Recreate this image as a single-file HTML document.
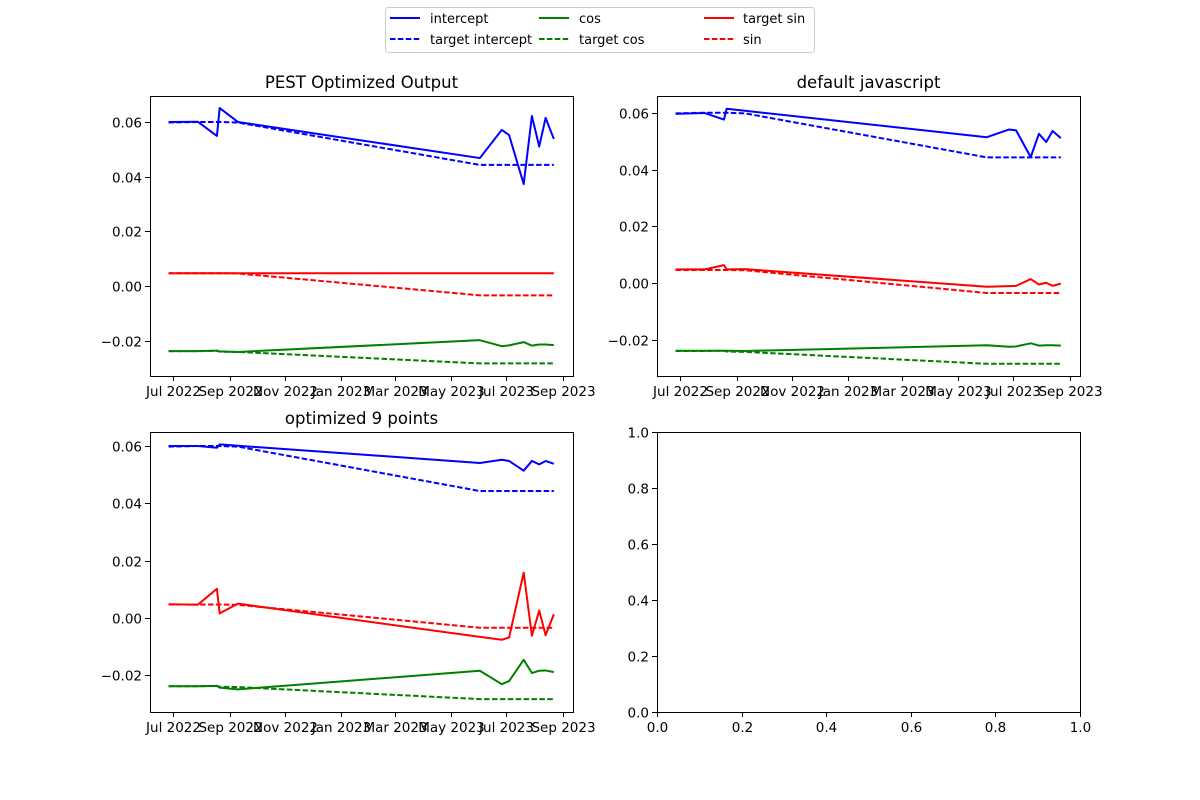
<!DOCTYPE html>
<html><head><meta charset="utf-8">
<style>
body{margin:0;background:#fff;}
svg{display:block;font-family:"DejaVu Sans","Liberation Sans",sans-serif;}
</style></head>
<body>
<svg id="fig" width="1200" height="800" viewBox="0 0 1200 800" xmlns="http://www.w3.org/2000/svg">
<rect width="1200" height="800" fill="#fff"/>
<g>
<rect x="385.5" y="7.5" width="429" height="45" rx="3" fill="#fff" stroke="#ccc"/>
<line x1="390" y1="18" x2="420" y2="18" stroke="blue" stroke-width="2"/>
<text x="430" y="23" font-size="13">intercept</text>
<line x1="390" y1="39" x2="420" y2="39" stroke="blue" stroke-width="2" stroke-dasharray="5.5,2.4"/>
<text x="430" y="44" font-size="13">target intercept</text>
<line x1="539" y1="18" x2="569" y2="18" stroke="green" stroke-width="2"/>
<text x="579" y="23" font-size="13">cos</text>
<line x1="539" y1="39" x2="569" y2="39" stroke="green" stroke-width="2" stroke-dasharray="5.5,2.4"/>
<text x="579" y="44" font-size="13">target cos</text>
<line x1="704" y1="18" x2="734" y2="18" stroke="red" stroke-width="2"/>
<text x="743" y="23" font-size="13">target sin</text>
<line x1="704" y1="39" x2="734" y2="39" stroke="red" stroke-width="2" stroke-dasharray="5.5,2.4"/>
<text x="743" y="44" font-size="13">sin</text>
</g>
</svg>
<script>
// days since 1 Jul 2022
const dates = [-5, 27, 48, 51, 71, 336, 360, 368, 384, 393, 401, 408, 417];
const xTickDays = [0, 62, 123, 184, 243, 304, 365, 427];
const xTickLabels = ["Jul 2022","Sep 2022","Nov 2022","Jan 2023","Mar 2023","May 2023","Jul 2023","Sep 2023"];
const yTickVals = [-0.02, 0.00, 0.02, 0.04, 0.06];
const yTickLabels = ["\u22120.02","0.00","0.02","0.04","0.06"];
const emptyTickVals = [0, 0.2, 0.4, 0.6, 0.8, 1.0];
const emptyTickLabels = ["0.0","0.2","0.4","0.6","0.8","1.0"];

const targetIntercept = [0.0598, 0.0600, 0.0600, 0.0600, 0.0598, 0.0443, 0.0443, 0.0443, 0.0443, 0.0443, 0.0443, 0.0443, 0.0443];
const targetSin = [0.0047, 0.0047, 0.0047, 0.0047, 0.0046, -0.0034, -0.0034, -0.0034, -0.0034, -0.0034, -0.0034, -0.0034, -0.0034];
const targetCos = [-0.0238, -0.0238, -0.0237, -0.0240, -0.0241, -0.0283, -0.0283, -0.0283, -0.0283, -0.0283, -0.0283, -0.0283, -0.0283];

const p1Intercept = [0.0600, 0.0601, 0.0549, 0.0651, 0.0600, 0.0468, 0.0571, 0.0552, 0.0373, 0.0622, 0.0510, 0.0615, 0.0538];
const p1Sin = [0.0047, 0.0047, 0.0047, 0.0047, 0.0047, 0.0047, 0.0047, 0.0047, 0.0047, 0.0047, 0.0047, 0.0047, 0.0047];
const p1Cos = [-0.0238, -0.0238, -0.0236, -0.0239, -0.0241, -0.0198, -0.0220, -0.0217, -0.0205, -0.0218, -0.0214, -0.0214, -0.0216];

const p2Intercept = [0.0596, 0.0599, 0.0576, 0.0614, 0.0607, 0.0514, 0.0541, 0.0538, 0.0444, 0.0526, 0.0497, 0.0536, 0.0511];
const p2Sin = [0.0049, 0.0049, 0.0064, 0.0049, 0.0050, -0.0012, -0.0010, -0.0009, 0.0015, -0.0004, 0.0002, -0.0009, -0.0001];
const p2Cos = [-0.0237, -0.0237, -0.0237, -0.0237, -0.0238, -0.0218, -0.0223, -0.0222, -0.0211, -0.0219, -0.0218, -0.0218, -0.0219];

const p3Intercept = [0.0600, 0.0600, 0.0594, 0.0606, 0.0601, 0.0541, 0.0552, 0.0548, 0.0514, 0.0548, 0.0536, 0.0548, 0.0538];
const p3Sin = [0.0048, 0.0046, 0.0102, 0.0016, 0.0050, -0.0066, -0.0076, -0.0068, 0.0158, -0.0062, 0.0026, -0.0060, 0.0013];
const p3Cos = [-0.0238, -0.0238, -0.0237, -0.0243, -0.0249, -0.0184, -0.0231, -0.0220, -0.0146, -0.0192, -0.0184, -0.0183, -0.0189];

const NS = "http://www.w3.org/2000/svg";
const fig = document.getElementById("fig");
function mk(tag, attrs, parent) {
  const e = document.createElementNS(NS, tag);
  for (const k in attrs) e.setAttribute(k, attrs[k]);
  parent.appendChild(e);
  return e;
}

function panel(name, box, xdom, ydom, title, xt, xl, yt, yl, series) {
  const g = mk("g", {}, fig);
  
  
  const sx = v => box.x + (v - xdom[0]) / (xdom[1] - xdom[0]) * box.w;
  const sy = v => box.y + box.h - (v - ydom[0]) / (ydom[1] - ydom[0]) * box.h;
  const clipId = "clip-" + name;
  const cp = mk("clipPath", {id: clipId}, g);
  mk("rect", {x: box.x, y: box.y, width: box.w, height: box.h}, cp);
  series.forEach(s => {
    const pts = s.y.map((v, i) => sx(s.x[i]).toFixed(2) + "," + sy(v).toFixed(2)).join(" ");
    const pl = mk("polyline", {points: pts, fill: "none", stroke: s.color, "stroke-width": 2, "stroke-linejoin": "round", "clip-path": "url(#" + clipId + ")"}, g);
    if (s.dash) pl.setAttribute("stroke-dasharray", "5.5,2.4");
    
    
  });
  const fr = mk("rect", {x: box.x + 0.5, y: box.y + 0.5, width: box.w, height: box.h, fill: "none", stroke: "#000", "stroke-width": 1}, g);
  
  
  xt.forEach((v, i) => {
    const x = Math.round(sx(v)) + 0.5;
    mk("line", {x1: x, y1: box.y + box.h, x2: x, y2: box.y + box.h + 5, stroke: "#000", "stroke-width": 1}, g);
    const t = mk("text", {x: x, y: box.y + box.h + 20, "font-size": 13.5, "text-anchor": "middle"}, g);
    t.textContent = xl[i];
    
    
  });
  yt.forEach((v, i) => {
    const y = Math.round(sy(v)) + 0.5;
    mk("line", {x1: box.x - 5, y1: y, x2: box.x, y2: y, stroke: "#000", "stroke-width": 1}, g);
    const t = mk("text", {x: box.x - 8, y: y + 5, "font-size": 13.5, "text-anchor": "end"}, g);
    t.textContent = yl[i];
    
    
  });
  if (title) {
    const t = mk("text", {x: box.x + box.w / 2, y: box.y - 8, "font-size": 16.5, "text-anchor": "middle"}, g);
    t.textContent = title;
    
    
  }
}

function seriesSet(ic, sn, cs) {
  return [
    {name: "target-intercept-line", x: dates, y: targetIntercept, color: "blue", dash: true},
    {name: "intercept-line", x: dates, y: ic, color: "blue"},
    {name: "target-cos-line", x: dates, y: targetCos, color: "green", dash: true},
    {name: "cos-line", x: dates, y: cs, color: "green"},
    {name: "sin-line", x: dates, y: targetSin, color: "red", dash: true},
    {name: "target-sin-line", x: dates, y: sn, color: "red"}
  ];
}

const xdomL = [-25.3, 438];
panel("pest-optimized-panel", {x:150, y:96, w:423, h:280}, xdomL, [-0.0329, 0.0695], "PEST Optimized Output",
  xTickDays, xTickLabels, yTickVals, yTickLabels, seriesSet(p1Intercept, p1Sin, p1Cos));
panel("default-javascript-panel", {x:657, y:96, w:423, h:280}, xdomL, [-0.0326, 0.0659], "default javascript",
  xTickDays, xTickLabels, yTickVals, yTickLabels, seriesSet(p2Intercept, p2Sin, p2Cos));
panel("optimized-9-points-panel", {x:150, y:432, w:423, h:280}, xdomL, [-0.0328, 0.0649], "optimized 9 points",
  xTickDays, xTickLabels, yTickVals, yTickLabels, seriesSet(p3Intercept, p3Sin, p3Cos));
panel("empty-panel", {x:657, y:432, w:423, h:280}, [0, 1], [0, 1], "",
  emptyTickVals, emptyTickLabels, emptyTickVals, emptyTickLabels, []);
</script>
</body></html>
